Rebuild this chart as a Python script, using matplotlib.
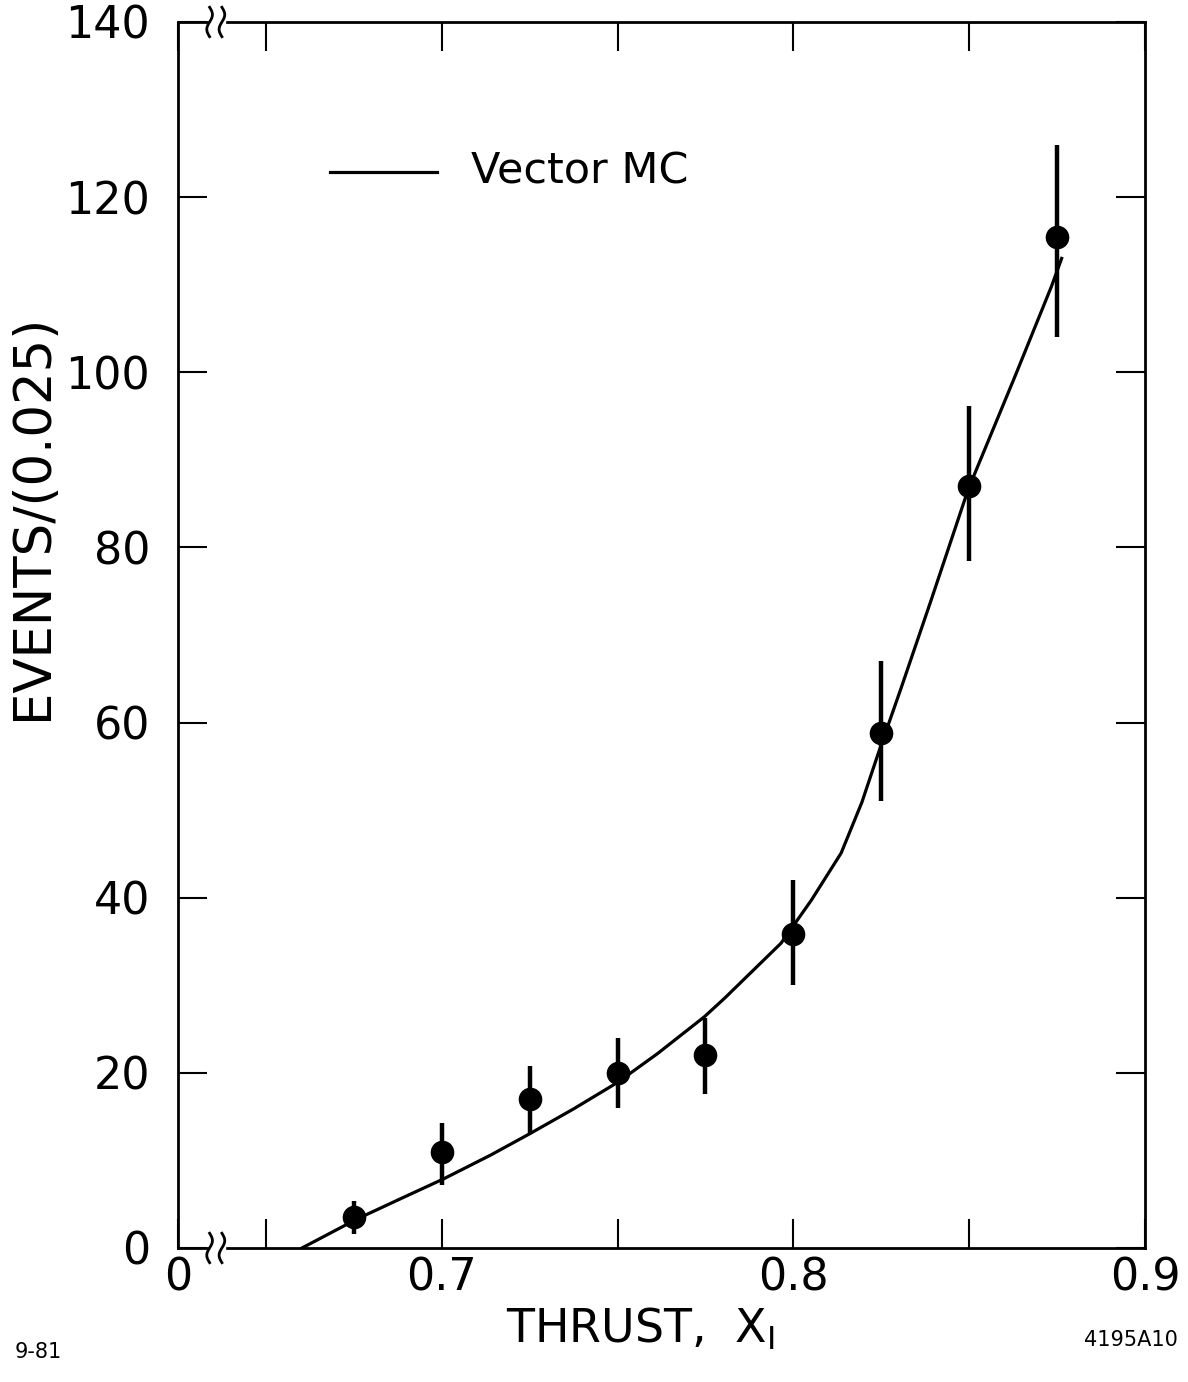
import numpy as np
import matplotlib.pyplot as plt

# data
x_pts = [0.675, 0.700, 0.725, 0.750, 0.775, 0.800, 0.825, 0.850, 0.875]
y_pts = [3.5, 11.0, 17.0, 20.0, 22.0, 35.8, 58.8, 87.0, 115.5]
y_hi = [5.4, 14.3, 20.8, 24.0, 26.3, 42.0, 67.0, 96.2, 126.0]
y_lo = [1.6, 7.2, 13.0, 16.0, 17.6, 30.0, 51.0, 78.5, 104.0]

# Vector MC curve
x_mc = [0.6603, 0.6759, 0.6882, 0.7006, 0.7139, 0.7253, 0.7376, 0.7500, 0.7614,
        0.7747, 0.7804, 0.7965, 0.8051, 0.8136, 0.8195, 0.8240, 0.8307, 0.8392,
        0.8497, 0.8630, 0.8734, 0.8763]
y_mc = [0.0, 3.3, 5.6, 7.9, 10.6, 13.1, 15.9, 18.9, 22.2,
        26.4, 28.5, 34.8, 39.7, 45.1, 50.9, 56.3, 64.0, 74.0,
        86.6, 99.5, 109.8, 113.0]

x_ticks = [0.625, 0.65, 0.70, 0.75, 0.80, 0.85, 0.90]
x_labels = ['0', '', '0.7', '', '0.8', '', '0.9']
y_ticks = [0, 20, 40, 60, 80, 100, 120, 140]

plt.rcParams['font.family'] = ['DejaVu Sans']

fig = plt.figure(figsize=(11.88, 13.82), dpi=100)
ax = fig.add_axes([0.1498, 0.0970, 0.8140, 0.8871])

err_lo = np.array(y_pts) - np.array(y_lo)
err_hi = np.array(y_hi) - np.array(y_pts)
ax.errorbar(x_pts, y_pts, yerr=[err_lo, err_hi], fmt='o', color='black',
            markersize=16, elinewidth=3.2, capsize=0, zorder=3)
ax.plot(x_mc, y_mc, 'k', linewidth=2.3)

ax.set_xlim(0.625, 0.9)
ax.set_ylim(0, 140)
ax.set_xticks(x_ticks)
ax.set_xticklabels(x_labels)
ax.set_yticks(y_ticks)
ax.tick_params(direction='in', length=21, width=1.5, labelsize=32,
               top=True, right=True, pad=6)
ax.tick_params(axis='y', pad=20)
for s in ax.spines.values():
    s.set_linewidth(2.0)

# legend
ax.plot([0.6683, 0.6988], [122.9, 122.9], 'k', linewidth=2.3)
ax.text(0.7082, 122.9, 'Vector MC', fontsize=31, va='center', ha='left')

# axis break marks on top and bottom spines
t = np.linspace(-1, 1, 50)
for yb in (0.0, 1.0):
    ax.add_patch(plt.Rectangle((0.6340, yb - 0.006), 0.0045, 0.012,
                               transform=ax.get_xaxis_transform(),
                               color='white', zorder=4, clip_on=False))
    for dx in (0.6340, 0.6375):
        ax.plot(dx + 0.0008 * np.sin(t * np.pi), yb + 0.012 * t,
                transform=ax.get_xaxis_transform(), color='black',
                linewidth=2, zorder=5, clip_on=False)

fig.text(33 / 1188, 1 - 517 / 1382, 'EVENTS/(0.025)', fontsize=37,
         rotation=90, ha='center', va='center')
ax.set_xlabel('THRUST,  X$_{\\mathregular{I}}$', fontsize=33)
ax.xaxis.set_label_coords(0.478, -0.047)

fig.text(15 / 1188, 1 - 1352 / 1382, '9-81', fontsize=15, va='center')
fig.text(1178 / 1188, 1 - 1340 / 1382, '4195A10', fontsize=15, va='center', ha='right')

fig.savefig('out.png', dpi=100)
